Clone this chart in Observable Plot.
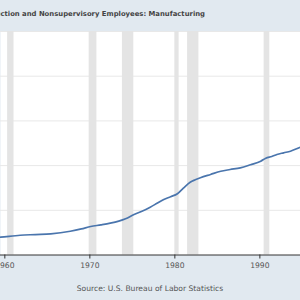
<!DOCTYPE html>
<html>
<head>
<meta charset="utf-8">
<script src="https://cdn.jsdelivr.net/npm/d3@7"></script>
<script src="https://cdn.jsdelivr.net/npm/@observablehq/plot@0.6"></script>
<style>
  html, body { margin: 0; padding: 0; }
  body { width: 300px; height: 300px; overflow: hidden; background: #e1e9f0; font-family: "DejaVu Sans", sans-serif; }
  #title { position: relative; height: 31px; overflow: hidden; }
  #title span { position: absolute; right: 95px; top: 9.5px; white-space: nowrap; font-weight: bold; font-size: 6.85px; color: #444; }
  #chart svg { display: block; }
  #source { height: 22px; text-align: center; font-size: 7.6px; color: #555; line-height: 22px; }
</style>
</head>
<body>
<div id="title"><span>Average Hourly Earnings of Production and Nonsupervisory Employees: Manufacturing</span></div>
<div id="chart"></div>
<div id="source">Source: U.S. Bureau of Labor Statistics</div>
<script>
// Average hourly earnings, dollars per hour (decimal year, value)
const years = [1959.0, 1959.5, 1961.8, 1963.6, 1965.4, 1967.7, 1969.0, 1970.1, 1971.3, 1972.4,
               1973.4, 1974.2, 1975.2, 1976.2, 1977.1, 1977.9, 1978.7, 1979.5, 1980.3, 1981.0,
               1981.8, 1982.4, 1983.0, 1984.2, 1985.4, 1986.5, 1987.7, 1988.9, 1990.1, 1990.7,
               1991.4, 1992.0, 1992.8, 1993.6, 1994.8, 1995.2];
const wages = [1.95, 1.99, 2.21, 2.29, 2.37, 2.66, 2.92, 3.19, 3.37, 3.56,
               3.79, 4.05, 4.53, 4.92, 5.35, 5.78, 6.21, 6.52, 6.85, 7.48,
               8.14, 8.42, 8.64, 9.01, 9.37, 9.56, 9.75, 10.10, 10.49, 10.83,
               11.02, 11.24, 11.43, 11.61, 12.06, 12.18];

// NBER recession periods
const recessionStart = [1960.33, 1969.92, 1973.83, 1980.0, 1981.5, 1990.5];
const recessionEnd   = [1961.08, 1970.83, 1975.17, 1980.5, 1982.83, 1991.17];

const xTicks = [1960, 1970, 1980, 1990];
const yGrid = [5, 10, 15, 20, 25];

const series = years.map((t, i) => ({t, v: wages[i]}));
const recessions = recessionStart.map((s, i) => ({s, e: recessionEnd[i]}));

const chart = Plot.plot({
  width: 300,
  height: 247,
  marginTop: 0,
  marginBottom: 23.5,
  marginLeft: 0,
  marginRight: 0,
  style: {background: "transparent", fontFamily: "DejaVu Sans, sans-serif"},
  x: {domain: [1959.49, 1994.78], axis: null},
  y: {domain: [0, 25], axis: null},
  marks: [
    Plot.frame({fill: "white", stroke: null}),
    Plot.ruleY(yGrid, {stroke: "#e8e8e8", strokeWidth: 1}),
    Plot.rect(recessions, {x1: "s", x2: "e", fill: "#e4e4e4"}),
    Plot.line(series, {x: "t", y: "v", stroke: "#4a75ad", strokeWidth: 1.7, curve: "monotone-x", clip: true}),
    Plot.ruleY([0], {stroke: "#333", strokeWidth: 1}),
    Plot.axisX(xTicks, {tickSize: 4, tickPadding: 4, fontSize: 7.6, tickFormat: d => String(d), stroke: "#333", color: "#555", anchor: "bottom"})
  ]
});
document.getElementById("chart").appendChild(chart);
</script>
</body>
</html>
